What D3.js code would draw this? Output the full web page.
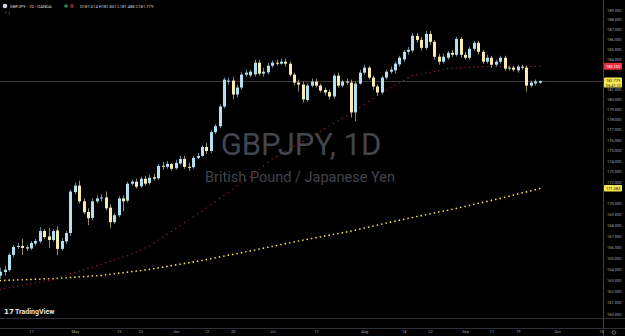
<!DOCTYPE html>
<html>
<head>
<meta charset="utf-8">
<script src="https://cdn.jsdelivr.net/npm/d3@7"></script>
<style>
  body { margin: 0; background: #000; }
  svg { display: block; font-family: Roboto, "Noto Sans", sans-serif; }
</style>
</head>
<body>
<svg id="chart"></svg>
<script>
// GBPJPY daily candles, 6 Apr 2023 .. 26 Sep 2023
const firstDay = '2023-04-06';

const opens = [
  163.40, 163.72, 163.90, 165.27, 165.99, 166.08, 165.95,
  165.85, 166.30, 166.50, 167.44, 166.95, 166.62, 167.50, 165.81, 166.50, 167.26,
  171.05, 171.66, 170.19, 169.20, 168.65, 170.19, 170.46, 170.55, 169.60, 168.26,
  168.90, 170.46, 170.25, 171.84, 172.03, 171.60, 172.31, 171.90, 172.45, 172.35,
  173.53, 173.44, 173.70, 173.30, 173.75, 174.19, 173.44, 173.40, 174.29, 174.48,
  175.33, 174.95, 176.76, 177.34, 179.27, 181.73, 181.83, 180.45, 181.14, 182.42,
  182.35, 182.45, 183.62, 182.52, 182.65, 183.32, 183.62, 183.52, 183.72, 183.52,
  182.42, 181.63, 181.43, 179.90, 181.33, 181.73, 181.33, 180.90, 180.70, 180.25,
  182.32, 181.33, 181.73, 181.63, 178.69, 181.53, 182.62, 183.12, 182.13, 181.24,
  180.65, 182.13, 182.72, 182.85, 183.45, 183.95, 184.72, 184.85, 186.34, 185.93,
  185.12, 186.54, 185.73, 184.22, 183.72, 184.12, 184.62, 184.42, 186.03, 184.42,
  184.12, 185.02, 185.63, 184.72, 183.72, 184.12, 183.42, 183.72, 184.12, 183.02,
  183.12, 182.85, 183.22, 183.12, 181.33, 181.55, 181.614
];
const highs = [
  164.11, 164.29, 165.45, 166.17, 166.35, 166.71, 166.17,
  166.53, 166.71, 167.80, 167.62, 167.71, 167.62, 167.89, 166.80, 167.44, 171.29,
  171.94, 172.12, 170.46, 169.54, 170.46, 170.74, 170.83, 171.10, 169.91, 169.08,
  170.64, 170.74, 172.03, 172.21, 172.31, 172.50, 172.59, 172.68, 172.78, 173.72,
  173.91, 174.00, 173.81, 174.10, 174.48, 174.48, 173.81, 174.48, 174.76, 175.52,
  175.71, 176.95, 177.53, 179.47, 182.13, 182.13, 182.22, 181.43, 182.72, 182.92,
  182.92, 183.92, 183.92, 183.12, 183.62, 183.82, 183.92, 184.02, 184.02, 183.72,
  182.62, 181.93, 181.73, 181.53, 182.03, 182.03, 181.53, 181.14, 180.94, 182.52,
  182.62, 181.93, 182.03, 181.93, 181.73, 182.92, 183.42, 183.32, 182.32, 181.43,
  182.32, 182.92, 183.22, 183.72, 184.32, 184.92, 185.22, 186.64, 186.64, 186.24,
  186.85, 186.85, 185.93, 184.52, 184.52, 184.82, 184.92, 186.24, 186.24, 184.72,
  185.22, 185.83, 185.83, 184.92, 184.42, 184.32, 183.92, 184.32, 184.32, 183.32,
  183.32, 183.42, 183.42, 183.32, 181.83, 181.93, 181.861
];
const lows = [
  163.13, 163.40, 163.75, 165.09, 165.81, 165.27, 165.63,
  165.72, 166.08, 166.35, 166.71, 165.90, 166.44, 165.27, 165.63, 166.26, 166.98,
  170.83, 170.00, 168.99, 167.98, 168.44, 170.00, 170.19, 169.36, 167.71, 168.08,
  168.71, 169.27, 170.09, 171.66, 171.38, 171.47, 171.66, 171.75, 172.12, 172.21,
  173.16, 173.25, 173.06, 173.16, 173.63, 173.25, 173.06, 173.25, 174.19, 174.38,
  174.67, 174.76, 176.57, 177.15, 179.08, 181.43, 179.96, 180.16, 180.94, 182.22,
  182.13, 182.22, 182.32, 182.22, 182.42, 183.12, 183.32, 183.42, 183.22, 182.22,
  181.33, 180.74, 179.67, 179.67, 181.14, 181.14, 180.65, 180.35, 179.96, 180.06,
  181.14, 181.14, 181.43, 178.20, 177.82, 181.43, 182.42, 181.93, 180.94, 180.35,
  180.45, 181.93, 182.52, 182.52, 183.22, 183.72, 184.42, 184.62, 185.63, 184.82,
  184.92, 185.42, 183.92, 183.42, 183.52, 183.92, 184.22, 184.22, 184.12, 183.92,
  183.92, 184.82, 184.42, 183.52, 183.52, 183.12, 183.22, 183.52, 182.82, 182.82,
  182.72, 182.62, 182.92, 180.74, 181.14, 181.33, 181.488
];
const closes = [
  163.75, 163.93, 165.27, 165.99, 166.08, 165.90, 165.85,
  166.35, 166.53, 167.44, 166.89, 166.62, 167.44, 165.81, 166.53, 167.26, 171.10,
  171.66, 170.19, 169.17, 168.62, 170.19, 170.46, 170.55, 169.54, 168.26, 168.90,
  170.46, 170.19, 171.84, 172.03, 171.56, 172.31, 171.84, 172.40, 172.31, 173.53,
  173.44, 173.72, 173.25, 173.81, 174.19, 173.44, 173.34, 174.29, 174.48, 175.33,
  174.95, 176.76, 177.34, 179.27, 181.93, 181.83, 180.45, 181.14, 182.42, 182.62,
  182.72, 183.62, 182.52, 182.72, 183.32, 183.62, 183.52, 183.72, 183.52, 182.42,
  181.63, 181.43, 179.96, 181.33, 181.73, 181.33, 180.84, 180.65, 180.25, 182.32,
  181.33, 181.73, 181.63, 178.69, 181.53, 182.62, 183.12, 182.13, 181.24, 180.65,
  182.13, 182.72, 182.92, 183.52, 184.12, 184.72, 184.92, 186.34, 185.93, 185.12,
  186.54, 185.73, 184.22, 183.72, 184.22, 184.62, 184.42, 186.03, 184.42, 184.12,
  185.02, 185.63, 184.72, 183.72, 184.12, 183.42, 183.72, 184.12, 183.02, 183.12,
  182.92, 183.22, 183.12, 181.33, 181.63, 181.73, 181.779
];

// moving averages as plotted (one dot per bar)
const ma50 = [
  162.17, 162.24, 162.31, 162.39, 162.46, 162.53, 162.60, 162.67, 162.74, 162.82, 162.89, 162.96,
  163.08, 163.20, 163.32, 163.44, 163.57, 163.69, 163.81, 163.93,
  164.06, 164.18, 164.31, 164.43, 164.56, 164.68, 164.81, 164.93, 165.06, 165.18,
  165.36, 165.54, 165.72, 165.90, 166.08,
  166.35, 166.61, 166.88, 167.14, 167.41, 167.68, 167.94, 168.21, 168.47, 168.74, 169.01, 169.27,
  169.56, 169.86, 170.15, 170.45, 170.74, 171.03, 171.33, 171.62, 171.92, 172.21, 172.50,
  172.84, 173.18, 173.51, 173.85, 174.19,
  174.43, 174.67, 174.90, 175.14, 175.38, 175.62,
  175.87, 176.11, 176.36, 176.61, 176.86, 177.10, 177.35, 177.60, 177.85, 178.09, 178.34, 178.59,
  178.88, 179.18, 179.47, 179.77, 180.06, 180.36, 180.65,
  180.89, 181.13, 181.37, 181.60, 181.84, 182.08, 182.32,
  182.41, 182.50, 182.58, 182.67, 182.76, 182.85, 182.93, 183.02,
  183.05, 183.08, 183.11, 183.13, 183.16, 183.19, 183.22,
  183.22, 183.23, 183.23, 183.23, 183.23, 183.24, 183.24, 183.24, 183.24, 183.24, 183.25, 183.25, 183.25, 183.253
];
const ma200 = [
  162.96, 162.97, 162.99, 163.00, 163.02, 163.03, 163.05, 163.06, 163.08, 163.09, 163.11, 163.12, 163.13,
  163.16, 163.18, 163.21, 163.24, 163.26, 163.29, 163.31, 163.34, 163.37, 163.39, 163.42,
  163.47, 163.52, 163.57, 163.62, 163.66, 163.71, 163.76, 163.81, 163.86, 163.91, 163.96,
  164.03, 164.09, 164.16, 164.23, 164.30, 164.36, 164.43, 164.50, 164.56, 164.63, 164.70, 164.76,
  164.84, 164.92, 165.00, 165.08, 165.16, 165.24, 165.31, 165.39, 165.47, 165.55, 165.63,
  165.71, 165.79, 165.88, 165.96, 166.04, 166.12, 166.20, 166.29, 166.37, 166.45, 166.53,
  166.61, 166.68, 166.76, 166.83, 166.91, 166.99, 167.06, 167.14, 167.21, 167.29, 167.36, 167.44,
  167.53, 167.62, 167.71, 167.80, 167.90, 167.99, 168.08, 168.17, 168.26, 168.35, 168.44,
  168.52, 168.61, 168.69, 168.78, 168.86, 168.94, 169.03, 169.11, 169.20, 169.28, 169.36, 169.45,
  169.54, 169.63, 169.72, 169.82, 169.91, 170.00, 170.09, 170.18, 170.27, 170.37, 170.46,
  170.56, 170.66, 170.77, 170.87, 170.97, 171.07, 171.17, 171.28, 171.38
];

const priceTicks = [160, 161, 162, 163, 164, 165, 166, 167, 168, 169, 170, 171, 172, 173, 174,
  175, 176, 177, 178, 179, 180, 181, 182, 183, 184, 185, 186, 187, 188, 189];
const timeTickDates = ['2023-04-17', '2023-05-01', '2023-05-15', '2023-05-22', '2023-06-01', '2023-06-12',
  '2023-06-20', '2023-07-03', '2023-07-17', '2023-08-01', '2023-08-14', '2023-08-22', '2023-09-01',
  '2023-09-11', '2023-09-19', '2023-10-02', '2023-10-16'];
const timeTickLabels = ['17', 'May', '15', '22', 'Jun', '12', '20', 'Jul', '17', 'Aug', '14', '22', 'Sep',
  '11', '19', 'Oct', '16'];

const W = 625, H = 336;
const paneRight = 603.5;
const upColor = '#b4dff2', downColor = '#f7ecb2';

const svg = d3.select('#chart').attr('width', W).attr('height', H);
svg.append('rect').attr('width', W).attr('height', H).attr('fill', '#000');

// trading days (weekdays only)
const fmt = d3.utcFormat('%Y-%m-%d');
const tradingDays = d3.utcDays(new Date(firstDay + 'T00:00Z'), new Date('2023-10-21T00:00Z'))
  .filter(d => d.getUTCDay() !== 0 && d.getUTCDay() !== 6);
const dayIndex = s => tradingDays.findIndex(d => fmt(d) === s);

const data = opens.map((o, i) => ({ i, o, h: highs[i], l: lows[i], c: closes[i] }));

const x = d3.scaleLinear()
  .domain([dayIndex('2023-04-17'), dayIndex('2023-10-16')])
  .range([31, 601]);
const y = d3.scaleLog().domain([160, 189]).range([314, 10]);

// watermark
svg.append('text').attr('x', 301).attr('y', 155).attr('text-anchor', 'middle')
  .attr('font-size', 31).attr('fill', '#42454d').text('GBPJPY, 1D');
svg.append('text').attr('x', 300).attr('y', 182).attr('text-anchor', 'middle')
  .attr('font-size', 14.5).attr('fill', '#42454d').text('British Pound / Japanese Yen');

const pane = svg.append('g');

// last price line
const last = data[data.length - 1];
pane.append('line').attr('x1', 0).attr('x2', paneRight)
  .attr('y1', Math.round(y(last.c)) + 0.5).attr('y2', Math.round(y(last.c)) + 0.5)
  .attr('stroke', '#4d4646').attr('stroke-width', 0.8);

// moving averages as dots
pane.append('g').selectAll('circle').data(ma200).join('circle')
  .attr('cx', (d, i) => x(i)).attr('cy', d => y(d)).attr('r', 0.85).attr('fill', '#f3e25c');
pane.append('g').selectAll('circle').data(ma50).join('circle')
  .attr('cx', (d, i) => x(i)).attr('cy', d => y(d)).attr('r', 0.7).attr('fill', '#9c2630');

// candles
const candles = pane.append('g').selectAll('g').data(data).join('g');
candles.append('line')
  .attr('x1', d => Math.round(x(d.i)) + 0.5).attr('x2', d => Math.round(x(d.i)) + 0.5)
  .attr('y1', d => y(d.h)).attr('y2', d => y(d.l))
  .attr('stroke', d => d.c >= d.o ? upColor : downColor).attr('stroke-opacity', 0.75).attr('stroke-width', 0.8);
candles.append('rect')
  .attr('x', d => Math.round(x(d.i)) - 1)
  .attr('width', 3)
  .attr('y', d => y(Math.max(d.o, d.c)))
  .attr('height', d => Math.max(0.8, y(Math.min(d.o, d.c)) - y(Math.max(d.o, d.c))))
  .attr('fill', d => d.c >= d.o ? upColor : downColor);

// frame lines
svg.append('line').attr('x1', paneRight).attr('x2', paneRight).attr('y1', 0).attr('y2', H)
  .attr('stroke', '#3b3e46').attr('stroke-width', 1);
[318.5, 328.5].forEach(v => svg.append('line').attr('x1', 0).attr('x2', W).attr('y1', v).attr('y2', v)
  .attr('stroke', '#2c2f36').attr('stroke-width', 1));

// price axis
const boxes = [
  { v: ma50[ma50.length - 1], bg: '#e8303c', fg: '#ffffff', h: 7, lines: ['183.253'] },
  { v: last.c, bg: '#f4e651', fg: '#131722', h: 10, lines: ['181.779', '06:41:12'] },
  { v: ma200[ma200.length - 1], bg: '#f4e651', fg: '#131722', h: 6.5, lines: ['171.383'] }
];
const yAxis = d3.axisRight(y).tickValues(priceTicks).tickFormat(d3.format('.3f')).tickSize(0).tickPadding(0);
const yAxisG = svg.append('g').attr('transform', `translate(607,0)`).call(yAxis);
yAxisG.select('.domain').remove();
yAxisG.selectAll('text').attr('font-size', 4).attr('fill', '#a3a6af').attr('font-family', 'Roboto, sans-serif')
  .style('display', d => boxes.some(b => Math.abs(y(d) - y(b.v)) < b.h / 2 + 2.5) ? 'none' : null);

boxes.forEach(b => {
  const cy = y(b.v);
  const g = svg.append('g');
  g.append('rect').attr('x', 604).attr('y', cy - 3.5).attr('width', 18).attr('height', b.h)
    .attr('rx', 0.8).attr('fill', b.bg);
  b.lines.forEach((t, k) => g.append('text').attr('x', 606).attr('y', cy + 1.4 + k * 4.2)
    .attr('font-size', 3.9).attr('fill', b.fg).text(t));
});

// time axis
const xAxis = d3.axisBottom(x)
  .tickValues(timeTickDates.map(dayIndex))
  .tickFormat((d, k) => timeTickLabels[k])
  .tickSize(0).tickPadding(0);
const xAxisG = svg.append('g').attr('transform', 'translate(0,330)').call(xAxis);
xAxisG.select('.domain').remove();
xAxisG.selectAll('text').attr('font-size', 4).attr('fill', '#a3a6af').attr('font-family', 'Roboto, sans-serif');

// settings icon
svg.append('circle').attr('cx', 614).attr('cy', 332.5).attr('r', 1.8)
  .attr('fill', 'none').attr('stroke', '#a3a6af').attr('stroke-width', 0.6);

// legend
svg.append('circle').attr('cx', 5).attr('cy', 6).attr('r', 2.3).attr('fill', '#d1d4dc');
svg.append('text').attr('x', 10).attr('y', 7.5).attr('font-size', 4.3).attr('fill', '#d1d4dc')
  .text('GBPJPY · 1D · OANDA');
svg.append('circle').attr('cx', 66).attr('cy', 6).attr('r', 1.8).attr('fill', '#1f8a5a');
svg.append('circle').attr('cx', 72).attr('cy', 6).attr('r', 2).attr('fill', '#7a1f2a');
svg.append('text').attr('x', 80).attr('y', 7.5).attr('font-size', 4.1).attr('fill', '#d1d4dc')
  .text(`O${last.o.toFixed(3)} H${last.h.toFixed(3)} L${last.l.toFixed(3)} C${last.c.toFixed(3)}`);
svg.append('text').attr('x', 4).attr('y', 15).attr('font-size', 4).attr('fill', '#a3a6af').text('⌃  1');

// TradingView mark
svg.append('text').attr('x', 4).attr('y', 314).attr('font-size', 7).attr('font-weight', 'bold')
  .attr('fill', '#e6e6e6').text('𝟭𝟳');
svg.append('text').attr('x', 15).attr('y', 314).attr('font-size', 7).attr('font-weight', 'bold')
  .attr('fill', '#e6e6e6').text('TradingView');
</script>
</body>
</html>
